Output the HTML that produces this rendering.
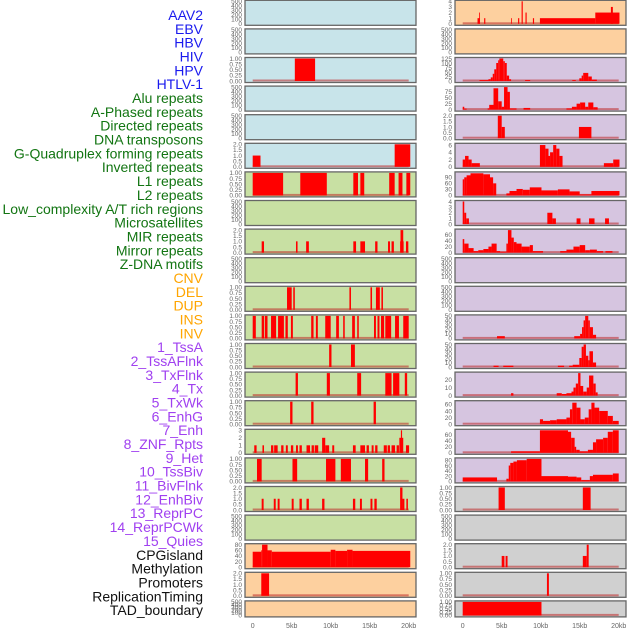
<!DOCTYPE html>
<html><head><meta charset="utf-8"><style>
html,body{margin:0;padding:0;background:#fff;}
svg{display:block;font-family:"Liberation Sans",sans-serif;}
</style></head><body>
<svg id="chart" width="630" height="630" viewBox="0 0 630 630" xmlns="http://www.w3.org/2000/svg"></svg>
<script>
const labels = ["AAV2","EBV","HBV","HIV","HPV","HTLV-1","Alu repeats","A-Phased repeats","Directed repeats","DNA transposons","G-Quadruplex forming repeats","Inverted repeats","L1 repeats","L2 repeats","Low_complexity A/T rich regions","Microsatellites","MIR repeats","Mirror repeats","Z-DNA motifs","CNV","DEL","DUP","INS","INV","1_TssA","2_TssAFlnk","3_TxFlnk","4_Tx","5_TxWk","6_EnhG","7_Enh","8_ZNF_Rpts","9_Het","10_TssBiv","11_BivFlnk","12_EnhBiv","13_ReprPC","14_ReprPCWk","15_Quies","CPGisland","Methylation","Promoters","ReplicationTiming","TAD_boundary"];
const labelGroups = [6,13,5,15,5];
const groupColors = ["#1a1aee","#127512","#ffa500","#a040f0","#111111"];
const xTickValues = [0,5,10,15,20];
const xTickLabels = ["0","5kb","10kb","15kb","20kb"];
const E=[0,100,200,300,400,500], Q=[0,0.25,0.5,0.75,1], H=[0,0.5,1,1.5,2];
const leftBg = ["b","b","b","b","b","b","g","g","g","g","g","g","g","g","g","g","g","g","g","o","o","o"];
const rightBg = ["o","o","p","p","p","p","p","p","p","p","p","p","p","p","p","p","p","y","y","y","y","y"];
const leftTicks = [E,E,Q,E,E,H,Q,E,H,E,Q,Q,Q,Q,Q,[0,1,2,3],Q,H,E,[0,20,40,60,80],H,E];
const leftMax = [500,500,1,500,500,2,1,500,2,500,1,1,1,1,1,3,1,2,500,80,2,500];
const rightTicks = [[0,1,2,3,4],E,[0,25,50,75,100,125],[0,25,50,75],H,[0,2,4,6],[0,30,60,90],[0,1,2,3,4],[0,20,40,60],E,E,[0,10,20,30,40,50],[0,10,20,30,40,50],[0,10,20],[0,20,40,60],[0,20,40,60],[0,20,40,60,80],Q,E,H,Q,Q];
const rightMax = [4,500,125,95,2,6.2,112,4,75,500,500,50,50,28,68,75,85,1,500,2,1,1];
const leftBars = [
 [],[],
 [[5.4,8.0,1]],
 [],[],
 [[0,1.0,1],[18.2,20.2,2]],
 [[0,3.9,1],[6.1,9.5,1],[12.9,13.5,1],[13.8,14.3,1],[17.5,18.2,1],[18.7,19.2,1],[19.7,20.2,1]],
 [],
 [[1.15,1.45,1],[5.55,5.75,1],[6.85,7.2,1],[12.9,13.25,1],[13.8,14.4,1],[15.7,16.0,1],[17.35,17.6,1],[17.8,18.1,1],[18.9,19.35,1],[18.95,19.3,2],[19.65,19.95,1]],
 [],
 [[4.4,5.0,1],[5.2,5.4,1],[12.4,12.6,1],[15.1,15.3,1],[15.8,16.3,1],[16.5,16.7,1]],
 [[0,0.4,1],[1.15,1.45,1],[1.55,1.9,1],[2.35,3.0,1],[3.25,4.0,1],[4.2,4.5,1],[4.9,5.15,1],[7.5,7.8,1],[8.1,8.35,1],[9.3,10.0,1],[10.7,11.05,1],[11.6,11.8,1],[12.75,13.1,1],[13.4,13.6,1],[15.55,15.8,1],[16.0,16.25,1],[16.45,16.85,1],[17.0,17.75,1],[18.25,18.75,1],[19.3,20.0,1]],
 [[9.8,10.1,1],[12.6,13.1,1]],
 [[5.5,5.8,1],[9.5,9.9,1],[13.4,13.9,1],[17.0,17.8,1],[18.0,18.8,1],[19.5,19.8,1]],
 [[4.8,5.1,1],[7.5,7.8,1],[15.5,15.8,1]],
 [[0.2,0.5,1],[1.25,1.45,1],[2.35,2.65,1],[2.75,3.2,1],[3.65,3.95,1],[4.25,4.5,1],[4.9,5.2,1],[5.55,5.8,1],[6.0,6.3,1],[6.9,7.35,1],[7.55,7.85,1],[7.95,8.4,1],[8.9,9.3,2],[9.3,9.8,1],[10.2,10.45,1],[12.85,13.2,1],[13.8,14.4,1],[14.6,14.9,1],[15.25,15.5,1],[15.7,16.0,1],[16.8,17.2,1],[17.3,17.6,1],[17.8,18.25,1],[18.45,18.75,1],[18.8,19.3,2],[19.0,19.15,3],[19.65,20.05,1]],
 [[0.55,1.15,1],[5.1,5.7,1],[9.4,10.6,1],[11.3,12.6,1],[14.4,14.8,1],[16.6,16.9,1]],
 [[1.15,1.4,1],[2.7,2.95,1],[3.2,3.45,1],[5.0,5.25,1],[6.0,6.3,1],[6.9,7.2,1],[8.9,9.2,1],[12.85,13.15,1],[13.75,14.0,1],[15.1,15.35,1],[15.6,15.9,1],[19.7,19.9,1],[18.9,19.2,2],[19.2,19.45,1]],
 [],
 [[0,1.1,55],[1.1,1.2,60],[1.2,1.9,80],[1.9,2.45,60],[2.45,10.0,55],[10.0,10.6,62],[10.6,12.1,58],[12.1,12.8,62],[12.8,20.2,58]],
 [[1.1,2.1,2]],
 []
];
const rightBars = [
 [[1.9,2.2,1],[2.1,2.2,2],[2.75,2.9,1],[6.2,6.3,1],[7.1,7.25,1],[7.55,7.7,4],[8.05,8.2,2],[9.0,9.15,1],[9.9,17.0,1],[17.0,20.1,2],[19.0,19.25,3]],
 [],
 [[2.15,3.3,5],[3.3,3.6,10],[3.6,3.85,20],[3.85,4.05,40],[4.05,4.3,65],[4.3,4.55,100],[4.55,4.7,115],[4.7,5.2,125],[5.2,5.4,110],[5.4,5.65,100],[5.65,5.95,30],[5.95,6.2,10],[8.0,8.65,5],[14.05,14.5,5],[14.95,15.25,15],[15.25,15.45,30],[15.45,16.1,45],[16.1,16.55,25],[16.55,17.2,8]],
 [[0,0.2,12],[0.2,0.5,4],[3.2,3.4,5],[3.4,3.95,20],[3.95,4.55,90],[4.55,5.0,35],[5.0,5.3,12],[5.3,5.75,95],[5.75,6.05,75],[6.05,6.9,5],[7.8,8.65,7],[13.3,14.0,5],[14.0,14.6,12],[14.6,15.05,25],[15.05,15.7,30],[15.7,16.1,12],[16.1,16.75,30],[16.75,17.3,10]],
 [[4.5,5.0,2],[5.0,5.4,1],[14.9,16.5,1]],
 [[0,0.3,2],[0.3,0.75,3],[0.75,1.15,2],[1.15,2.2,1],[9.9,10.6,6],[10.6,11.0,5],[11.0,11.2,3],[11.2,11.6,4],[11.6,12.0,6],[12.0,12.4,5],[12.4,12.8,3],[18.1,19.3,1],[19.3,20.1,2]],
 [[0,0.2,80],[0.2,0.5,90],[0.5,1.0,100],[1.0,2.65,110],[2.65,3.5,105],[3.5,3.9,90],[3.9,4.3,60],[5.6,6.0,10],[6.0,6.9,22],[6.9,7.7,32],[7.7,8.6,28],[8.6,10.1,40],[10.1,12.2,25],[12.2,13.7,30],[13.7,15.0,20],[15.0,16.5,5],[16.5,20.1,22]],
 [[0,0.2,4],[0.2,0.45,2],[0.45,0.8,1],[10.85,11.5,2],[11.5,11.95,1],[14.6,15.1,1],[16.2,16.9,1],[18.25,18.75,1]],
 [[0,0.2,45],[0.2,0.75,30],[0.75,1.4,15],[1.4,2.0,5],[2.0,2.65,8],[2.65,3.3,12],[3.3,3.7,20],[3.7,4.35,30],[4.35,4.8,5],[4.8,5.6,3],[5.6,5.8,30],[5.8,6.25,75],[6.25,6.55,50],[6.55,6.9,35],[6.9,7.55,30],[7.55,8.6,20],[8.6,9.0,25],[9.0,10.3,5],[12.5,13.3,5],[13.3,14.2,10],[14.2,15.0,20],[15.0,15.7,25],[15.7,16.3,8],[16.3,17.2,10],[17.2,18.0,5],[18.3,19.2,5]],
 [],[],
 [[4.4,5.4,5],[14.3,15.05,5],[15.05,15.3,10],[15.3,15.5,25],[15.5,15.7,40],[15.7,16.1,50],[16.1,16.3,40],[16.3,16.7,25],[16.7,17.1,8]],
 [[3.95,4.6,3],[5.2,6.5,3],[12.2,13.0,3],[13.65,14.1,3],[14.1,14.95,5],[14.95,15.25,20],[15.25,15.5,45],[15.5,15.8,50],[15.8,16.1,25],[16.1,16.25,15],[16.25,16.7,35],[16.7,17.1,10]],
 [[6.2,6.5,3],[12.05,12.7,3],[12.7,13.3,2],[13.3,13.95,3],[13.95,14.2,5],[14.2,14.5,10],[14.5,14.8,15],[14.8,15.1,28],[15.1,15.45,12],[15.45,15.9,5],[15.9,16.2,10],[16.2,16.75,25],[16.75,17.05,15],[17.05,17.3,4]],
 [[9.9,10.3,15],[10.3,11.2,10],[11.2,12.05,12],[12.05,13.3,15],[13.3,13.75,20],[13.75,14.05,45],[14.05,14.6,65],[14.6,15.1,50],[15.1,15.65,15],[15.65,16.15,20],[16.15,16.5,45],[16.5,16.9,65],[16.9,17.5,50],[17.5,18.6,40],[18.6,19.25,25],[19.25,20.0,10]],
 [[6.2,9.9,5],[9.9,13.5,75],[13.5,13.9,70],[13.9,14.35,50],[14.35,14.55,20],[14.55,15.0,10],[15.0,16.05,5],[16.05,16.7,10],[16.7,17.1,35],[17.1,18.0,45],[18.0,18.6,50],[18.6,19.25,70],[19.25,20.0,75]],
 [[0,4.4,15],[5.6,5.9,10],[5.9,6.1,60],[6.1,6.5,70],[6.5,6.95,75],[6.95,8.2,80],[8.2,10.1,85],[10.1,13.5,20],[13.5,14.6,18],[14.6,15.2,15],[15.2,16.3,5],[16.3,16.7,20],[16.7,19.25,25],[19.25,20.0,30]],
 [[4.6,5.4,1],[15.4,16.4,1]],
 [],
 [[5.0,5.35,1],[5.5,5.75,1],[15.4,15.9,1],[15.9,16.15,2]],
 [[10.8,11.05,1]],
 [[0,10.1,1]]
];

const NS="http://www.w3.org/2000/svg";
const svg=document.getElementById('chart');
const bgColors={b:"#c8e4ea",g:"#c8e0a3",o:"#fdd09f",p:"#d6c5e0",y:"#d0d0d0"};
const cols=[{x0:245,x1:416,d0:252.7,bg:leftBg,ticks:leftTicks,max:leftMax,bars:leftBars,name:'left'},
            {x0:455,x1:626,d0:462.7,bg:rightBg,ticks:rightTicks,max:rightMax,bars:rightBars,name:'right'}];
const kbPx=7.8;
function mk(tag,attrs){const e=document.createElementNS(NS,tag);for(const k in attrs)e.setAttribute(k,attrs[k]);svg.appendChild(e);return e;}
function fmt(t,ticks){let d=0;ticks.forEach(v=>{const s=String(v).split('.')[1];if(s)d=Math.max(d,s.length);});return t.toFixed(d);}

// labels
let li=0;
labelGroups.forEach((n,g)=>{for(let k=0;k<n;k++){const t=mk('text',{x:203,y:(20+li*13.84).toFixed(1),'text-anchor':'end','font-size':'14',fill:groupColors[g]});t.textContent=labels[li];


li++;}});

cols.forEach(c=>{
 for(let r=0;r<22;r++){
  const top=0.3+r*28.6, h=(r===21?16:25), bot=top+h;
  const y0=bot-1.5, y1=top+1;
  const ys=v=>y0-(v/c.max[r])*(y0-y1);
  const xs=kb=>c.d0+kb*kbPx;
  const rect=mk('rect',{x:c.x0,y:top,width:c.x1-c.x0,height:h,fill:bgColors[c.bg[r]]});
  
  
  const bars=c.bars[r];
  if(bars.length){
   const bl=mk('rect',{x:xs(0),y:y0-1.5,width:xs(20)-xs(0),height:2,fill:'rgba(190,40,40,0.55)'});
   
   
  }
  bars.forEach(b=>{
   const e=mk('rect',{x:xs(b[0]).toFixed(2),y:ys(b[2]).toFixed(2),width:Math.max(0.8,xs(b[1])-xs(b[0])).toFixed(2),height:(y0-ys(b[2])).toFixed(2),fill:'#ff0000'});
   
   
  });
  const br=mk('rect',{x:c.x0,y:top,width:c.x1-c.x0,height:h,fill:'none',stroke:'#666',"stroke-width":1.3});
  
  
  c.ticks[r].forEach(t=>{
   const tx=mk('text',{x:c.x0-3,y:(ys(t)+2.3).toFixed(1),'text-anchor':'end','font-size':'6.5',fill:'#666'});
   tx.textContent=fmt(t,c.ticks[r]);
   
   
  });
 }
 xTickValues.forEach((v,i)=>{
  const t=mk('text',{x:(c.d0+v*kbPx).toFixed(1),y:628,'text-anchor':'middle','font-size':'7',fill:'#666'});
  t.textContent=xTickLabels[i];
  
  
 });
});
</script>
</body></html>
